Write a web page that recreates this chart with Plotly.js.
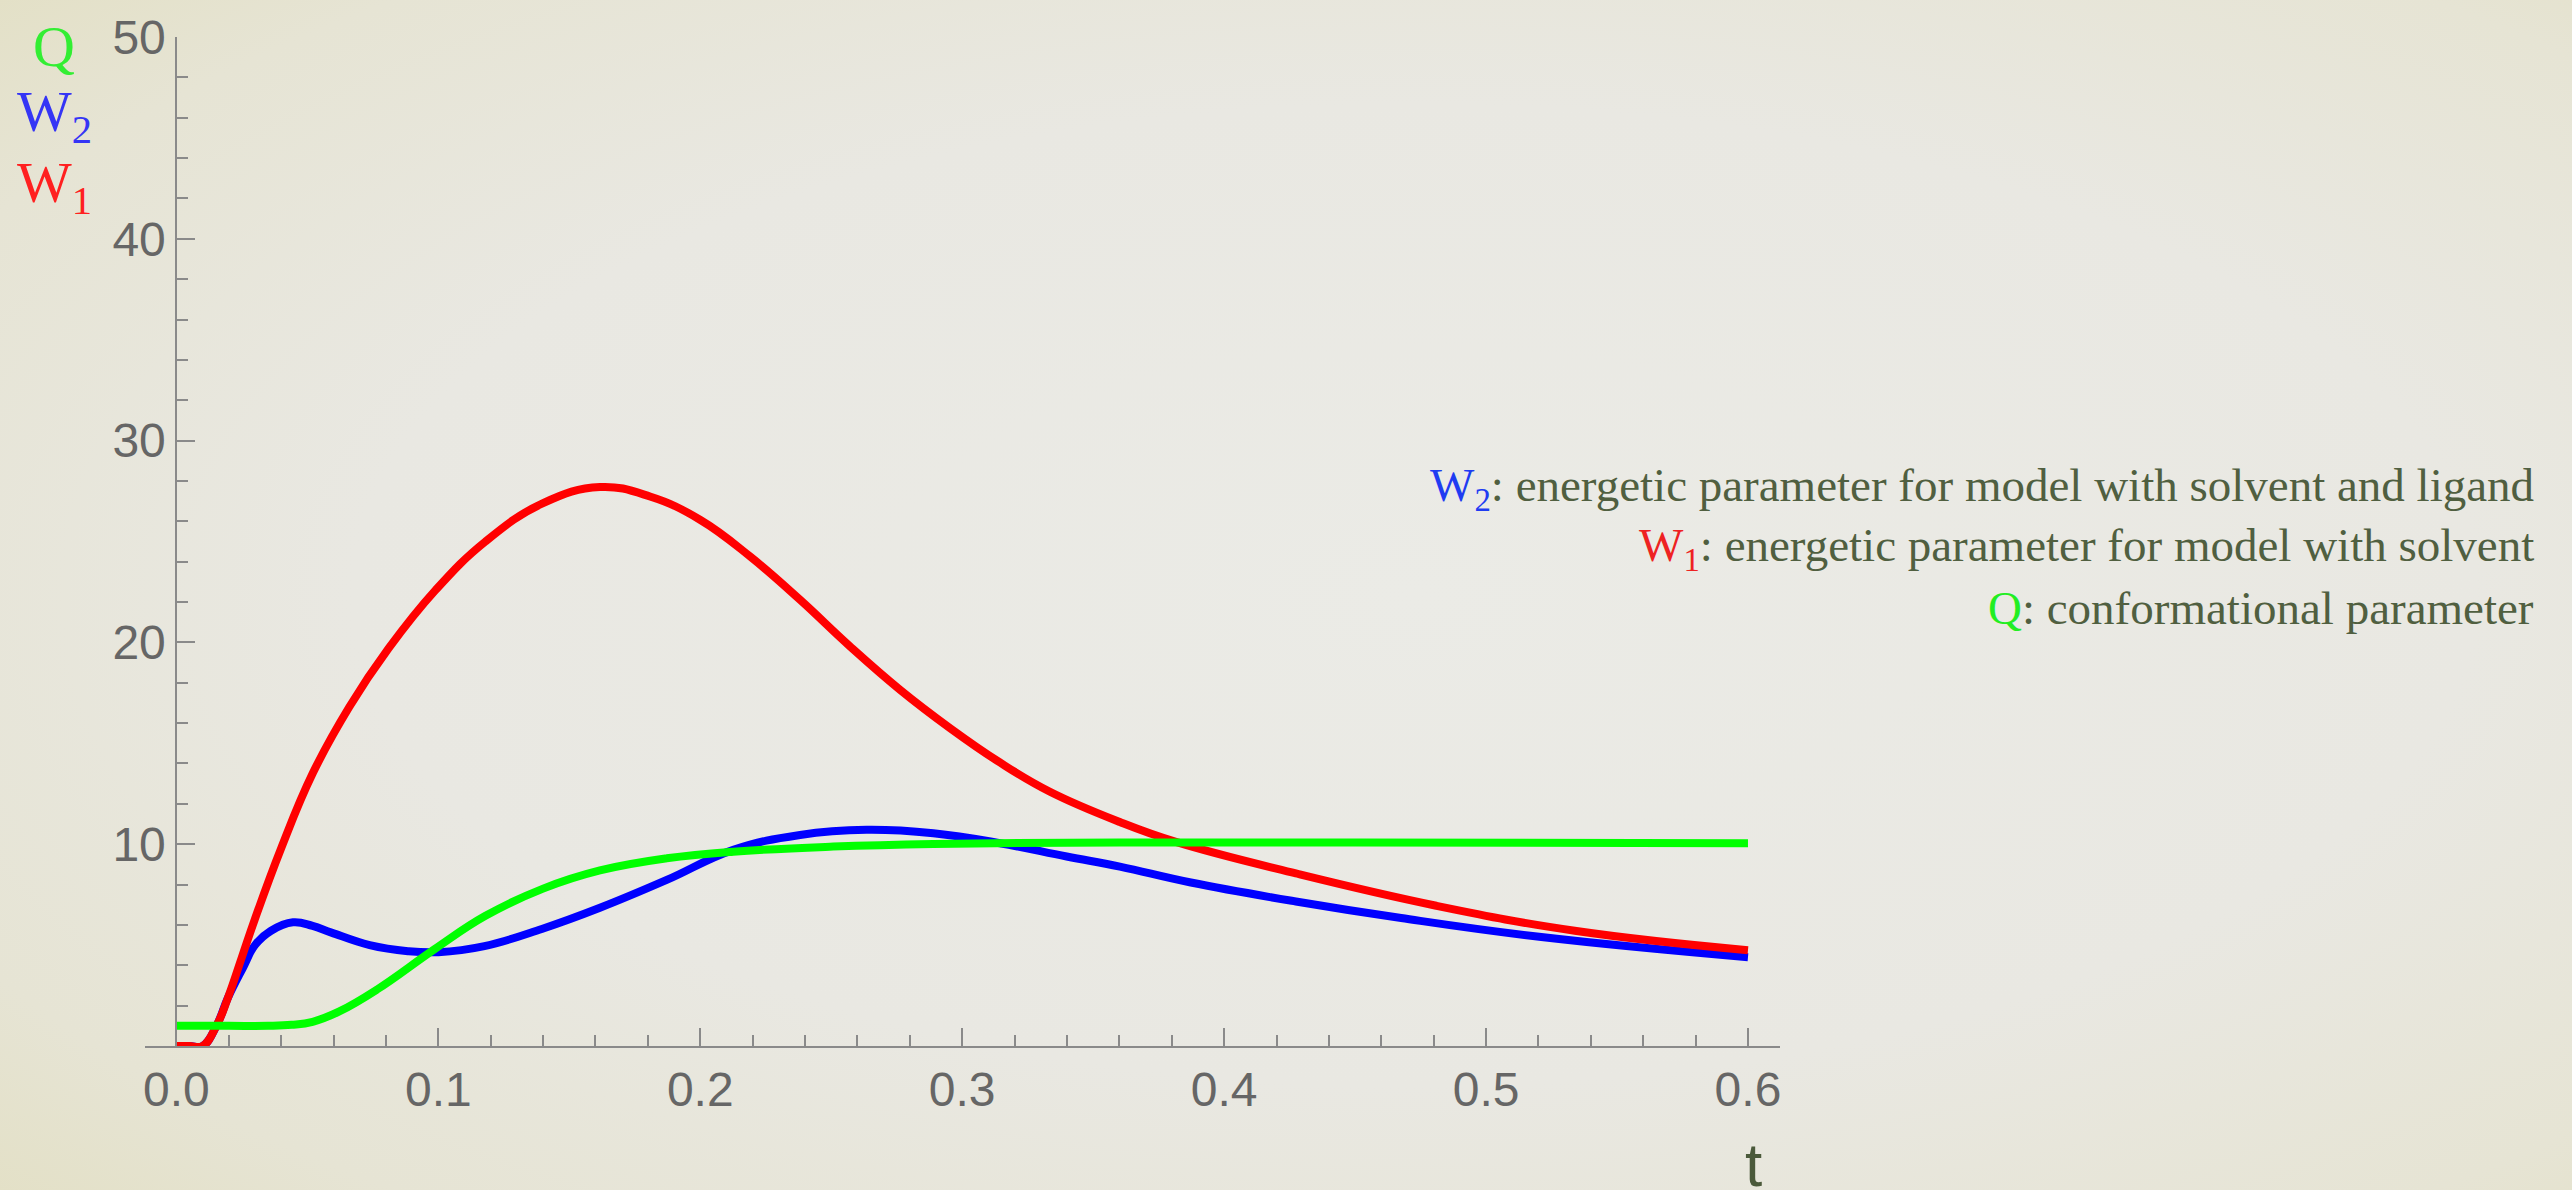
<!DOCTYPE html>
<html>
<head>
<meta charset="utf-8">
<script src="https://cdn.plot.ly/plotly-3.0.1.min.js"></script>
<style>
  html, body { margin: 0; padding: 0; width: 2572px; height: 1190px; overflow: hidden;
    background: radial-gradient(ellipse 75% 75% at 55% 50%, #ebebe6 0%, #e9e8e2 55%, #e6e4d4 85%, #e3e0c6 100%); }
  #chart { width: 2572px; height: 1190px; }
</style>
</head>
<body>
<div id="chart"></div>
<script>
// ---- data ----
const tW1 = [0, 0.005, 0.010, 0.0153, 0.0197, 0.025, 0.030, 0.040, 0.052, 0.066, 0.081, 0.099, 0.118, 0.140, 0.1617, 0.1808, 0.1999, 0.2190, 0.2381, 0.2572, 0.2763, 0.2954, 0.3144, 0.3335, 0.3602, 0.3819, 0.4274, 0.481, 0.5345, 0.600];
const W1  = [0, 0, 0, 1.0, 2.4, 4.4, 6.3, 9.8, 13.5, 16.8, 19.7, 22.6, 25.0, 26.9, 27.70, 27.23, 26.08, 24.26, 22.11, 19.80, 17.65, 15.75, 14.05, 12.6, 11.1, 10.1, 8.55, 6.95, 5.7, 4.75];

const tW2 = [0, 0.005, 0.010, 0.0153, 0.0197, 0.0255, 0.030, 0.036, 0.0445, 0.052, 0.0592, 0.0738, 0.0884, 0.100, 0.1176, 0.1395, 0.1617, 0.1872, 0.2126, 0.2381, 0.2635, 0.2890, 0.3144, 0.3399, 0.3602, 0.3873, 0.4274, 0.4676, 0.5211, 0.600];
const W2  = [0, 0, 0, 1.0, 2.4, 3.9, 5.0, 5.7, 6.13, 5.95, 5.62, 5.0, 4.7, 4.65, 4.95, 5.8, 6.85, 8.23, 9.72, 10.46, 10.71, 10.54, 10.05, 9.39, 8.89, 8.1, 7.16, 6.34, 5.4, 4.4];

const tQ = [0, 0.020, 0.035, 0.044, 0.052, 0.062, 0.0766, 0.0986, 0.118, 0.140, 0.1617, 0.1872, 0.2126, 0.2508, 0.289, 0.3602, 0.450, 0.600];
const Q  = [1.0, 1.0, 1.0, 1.05, 1.2, 1.7, 2.8, 4.8, 6.45, 7.8, 8.7, 9.30, 9.63, 9.88, 10.01, 10.08, 10.08, 10.05];

const xTickVals = [0, 0.1, 0.2, 0.3, 0.4, 0.5, 0.6];
const xTickText = ["0.0", "0.1", "0.2", "0.3", "0.4", "0.5", "0.6"];
const yTickVals = [10, 20, 30, 40, 50];
const yTickText = ["10", "20", "30", "40", "50"];

const legendLines = [
  {sym: "W<sub>2</sub>", color: "#1f3cf2", text: ": energetic parameter for model with solvent and ligand"},
  {sym: "W<sub>1</sub>", color: "#ee2222", text: ": energetic parameter for model with solvent"},
  {sym: "Q", color: "#22ee22", text: ": conformational parameter"}
];
const axisLabels = [
  {text: "Q", color: "#33ee33"},
  {text: "W<sub>2</sub>", color: "#3535f5"},
  {text: "W<sub>1</sub>", color: "#ff2020"}
];

// ---- layout geometry ----
const W = 2572, H = 1190;
const mL = 145, mR = 792, mT = 37, mB = 144;
const plotW = W - mL - mR, plotH = H - mT - mB;
const px = x => (x - mL) / plotW;
const py = y => (H - mB - y) / plotH;

const lineW = 8;
const sm = 1.2;
const traces = [
  {x: tW2, y: W2, mode: "lines", line: {color: "#0000ff", width: lineW, shape: "spline", smoothing: sm}, hoverinfo: "skip"},
  {x: tW1, y: W1, mode: "lines", line: {color: "#ff0000", width: lineW, shape: "spline", smoothing: sm}, hoverinfo: "skip"},
  {x: tQ,  y: Q,  mode: "lines", line: {color: "#00ff00", width: lineW, shape: "spline", smoothing: sm}, hoverinfo: "skip"}
];

const axColor = "#8a8a8a";
const tickFont = {family: "Liberation Sans, Arial, sans-serif", size: 48, color: "#666666"};

const annotations = [];
const axisLabelY = [47, 116, 186];
axisLabels.forEach((a, i) => {
  annotations.push({
    xref: "paper", yref: "paper", x: px(54), y: py(axisLabelY[i]),
    xanchor: "center", yanchor: "middle", showarrow: false,
    text: a.text, font: {family: "Liberation Serif, Times New Roman, serif", size: 58, color: a.color}
  });
});
const legendY = [488, 548, 608];
legendLines.forEach((l, i) => {
  annotations.push({
    xref: "paper", yref: "paper", x: px(2536), y: py(legendY[i]),
    xanchor: "right", yanchor: "middle", showarrow: false,
    text: '<span style="color:' + l.color + '">' + l.sym + '</span>' + l.text,
    font: {family: "Liberation Serif, Times New Roman, serif", size: 47, color: "#505f40"}
  });
});
annotations.push({
  xref: "paper", yref: "paper", x: px(1753), y: py(1128),
  xanchor: "center", yanchor: "top", showarrow: false,
  text: "t", font: {family: "Liberation Sans, Arial, sans-serif", size: 62, color: "#4b5a3b"}
});

const layout = {
  width: W, height: H,
  margin: {l: mL, r: mR, t: mT, b: mB, pad: 0},
  paper_bgcolor: "rgba(0,0,0,0)", plot_bgcolor: "rgba(0,0,0,0)",
  showlegend: false,
  xaxis: {
    range: [(mL - 176.4) / 2619.3, (W - mR - 176.4) / 2619.3],
    showgrid: false, zeroline: false, showline: true, linecolor: axColor, linewidth: 2,
    ticks: "inside", ticklen: 18, tickwidth: 2, tickcolor: axColor,
    tickmode: "array", tickvals: xTickVals, ticktext: xTickText,
    tickfont: tickFont,
    minor: {ticks: "inside", ticklen: 11, tickwidth: 2, tickcolor: axColor, dtick: 0.02, tick0: 0, showgrid: false},
    fixedrange: true
  },
  yaxis: {
    range: [0, 50], anchor: "free", position: px(176.4),
    showgrid: false, zeroline: false, showline: true, linecolor: axColor, linewidth: 2,
    ticks: "inside", ticklen: 18, tickwidth: 2, tickcolor: axColor,
    tickmode: "array", tickvals: yTickVals, ticktext: yTickText,
    tickfont: tickFont,
    minor: {ticks: "inside", ticklen: 11, tickwidth: 2, tickcolor: axColor, dtick: 2, tick0: 0, showgrid: false},
    fixedrange: true
  },
  annotations: annotations
};

Plotly.newPlot("chart", traces, layout, {displayModeBar: false, staticPlot: true});
</script>
</body>
</html>
